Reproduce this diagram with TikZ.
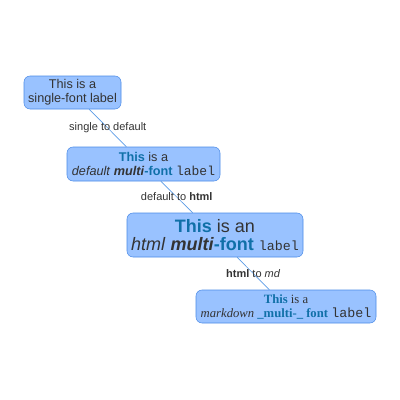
\documentclass[tikz,border=0pt]{standalone}
\usepackage{fontspec}
\setmainfont{Liberation Sans}
\setmonofont{Liberation Mono}
\newfontfamily\serifface{Liberation Serif}
\usepackage{xcolor}
\definecolor{boxfill}{HTML}{99C2FF}
\definecolor{boxline}{HTML}{4A8AE6}
\definecolor{edgeline}{HTML}{5B9BE6}
\definecolor{ink}{HTML}{333333}
\definecolor{hilite}{HTML}{1070A8}
\newcommand{\hl}[1]{\textcolor{hilite}{\textbf{#1}}}

\begin{document}
\begin{tikzpicture}[x=0.75pt,y=-0.75pt,
  labelbox/.style={draw=boxline,fill=boxfill,rounded corners=4.5pt,
    align=center,inner sep=0pt,text=ink},
  edgelabel/.style={font=\fontsize{8.25}{9}\selectfont,text=ink,inner sep=1pt},
  link/.style={draw=edgeline,line width=0.5pt}]
  \useasboundingbox (0,0) rectangle (400,400);
  % the four labels
  \node[labelbox,minimum width=72.75pt,minimum height=24.75pt,
    font=\fontsize{9.5}{10.5}\selectfont] (single) at (72.5,92.5)
    {This is a\\single-font label};
  \node[labelbox,minimum width=114.75pt,minimum height=25.5pt,
    font=\fontsize{9.5}{10.5}\selectfont] (default) at (143.5,164)
    {\hl{This} is a\\\textit{default} \textbf{\textit{multi}}\hl{-font} {\fontsize{9.75}{10.5}\selectfont\texttt{label}}};
  \node[labelbox,minimum width=132pt,minimum height=33pt,
    font=\fontsize{13.5}{14}\selectfont] (html) at (215,235)
    {\hl{This} is an\\\textit{html} \textbf{\textit{multi}}\hl{-font} {\fontsize{10}{14}\selectfont\texttt{label}}};
  \node[labelbox,minimum width=135pt,minimum height=24.75pt,
    font=\serifface\fontsize{9.5}{10.5}\selectfont] (md) at (286,306.5)
    {\hl{This} is a\\\textit{markdown} \hl{\_multi-\_ font} {\fontsize{10}{10.5}\selectfont\texttt{label}}};
  % connectors
  \path[link] (single) -- (default)
    node[edgelabel,pos=0.5] {single to default};
  \path[link] (default) -- (html)
    node[edgelabel,pos=0.5] {default to \textbf{html}};
  \path[link] (html) -- (md)
    node[edgelabel,pos=0.5] {\textbf{html} to \textit{md}};
\end{tikzpicture}
\end{document}
